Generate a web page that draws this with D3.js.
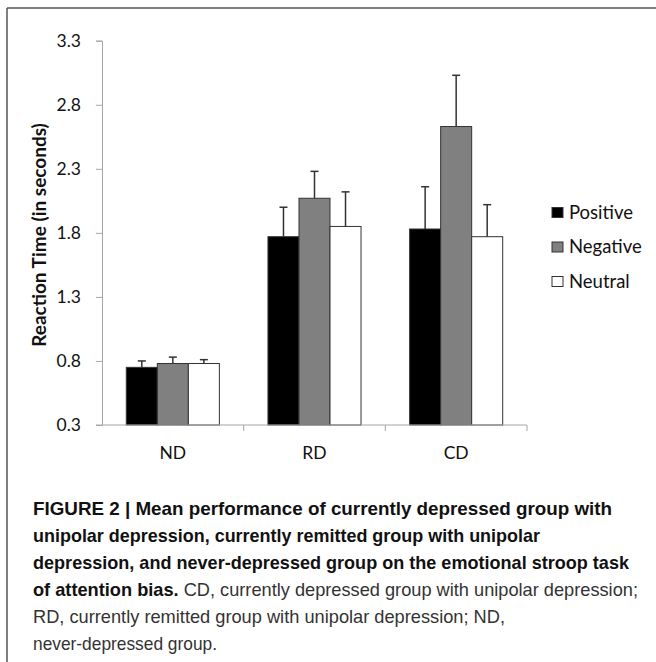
<!DOCTYPE html>
<html><head><meta charset="utf-8">
<script src="https://cdn.jsdelivr.net/npm/d3@7"></script>
<style>body{margin:0;background:#fff}svg{display:block}</style>
</head><body>
<script>
const groups = ["ND", "RD", "CD"];
const seriesNames = ["Positive", "Negative", "Neutral"];
const positive = [0.75, 1.77, 1.83];
const negative = [0.78, 2.07, 2.63];
const neutral  = [0.78, 1.85, 1.77];
const positiveErr = [0.05, 0.23, 0.33];
const negativeErr = [0.05, 0.21, 0.40];
const neutralErr  = [0.03, 0.27, 0.25];
const yTicks = [0.3, 0.8, 1.3, 1.8, 2.3, 2.8, 3.3];
const fills = ["#000000", "#808080", "#ffffff"];

const values = [positive, negative, neutral];
const errs = [positiveErr, negativeErr, neutralErr];

const W = 656, H = 662;
const svg = d3.select("body").append("svg").attr("width", W).attr("height", H);

// frame
svg.append("line").attr("x1", 7).attr("x2", W).attr("y1", 8).attr("y2", 8).attr("stroke", "#555").attr("stroke-width", 1.5);
svg.append("line").attr("x1", 7).attr("x2", 7).attr("y1", 8).attr("y2", H).attr("stroke", "#555").attr("stroke-width", 1.5);

const plotLeft = 102, plotRight = 527, plotTop = 40.7, plotBottom = 425;
const y = d3.scaleLinear().domain([0.3, 3.3]).range([plotBottom, plotTop]);
const x0 = d3.scaleBand().domain(groups).range([plotLeft, plotRight]).padding(0);
const x1 = d3.scaleBand().domain(seriesNames).range([24.3, x0.bandwidth() - 24.3]).padding(0);

const font = "Lato, 'Open Sans', sans-serif";
const axisColor = "#a6a6a6";

// y axis
const yAxis = svg.append("g").attr("transform", `translate(${plotLeft},0)`)
  .call(d3.axisLeft(y).tickValues(yTicks).tickFormat(d3.format(".1f")).tickSize(6).tickPadding(15));
yAxis.select(".domain").attr("stroke", axisColor);
yAxis.selectAll(".tick line").attr("stroke", axisColor);
yAxis.selectAll(".tick text").attr("fill", "#111").style("font-family", font).style("font-size", "17.5px");

// bars
const rows = [];
groups.forEach((g, gi) => seriesNames.forEach((s, si) => rows.push({g, s, si, v: values[si][gi], e: errs[si][gi]})));

const bars = svg.append("g");
bars.selectAll("rect").data(rows).join("rect")
  .attr("x", d => x0(d.g) + x1(d.s))
  .attr("width", x1.bandwidth())
  .attr("y", d => y(d.v))
  .attr("height", d => y(0.3) - y(d.v))
  .attr("fill", d => fills[d.si])
  .attr("stroke", "#333").attr("stroke-width", 1);

// error bars
const eb = svg.append("g").attr("stroke", "#333").attr("stroke-width", 1.5);
eb.selectAll("line.v").data(rows).join("line").attr("class", "v")
  .attr("x1", d => x0(d.g) + x1(d.s) + x1.bandwidth() / 2)
  .attr("x2", d => x0(d.g) + x1(d.s) + x1.bandwidth() / 2)
  .attr("y1", d => y(d.v)).attr("y2", d => y(d.v + d.e));
eb.selectAll("line.c").data(rows).join("line").attr("class", "c")
  .attr("x1", d => x0(d.g) + x1(d.s) + x1.bandwidth() / 2 - 4)
  .attr("x2", d => x0(d.g) + x1(d.s) + x1.bandwidth() / 2 + 4)
  .attr("y1", d => y(d.v + d.e)).attr("y2", d => y(d.v + d.e));

// x axis
const xg = svg.append("g").attr("transform", `translate(0,${plotBottom})`);
xg.append("line").attr("x1", plotLeft - 6).attr("x2", plotRight).attr("y1", 0).attr("y2", 0).attr("stroke", axisColor);
const boundaries = groups.map(g => x0(g) + x0.bandwidth());
xg.selectAll("line.t").data(boundaries).join("line").attr("class", "t")
  .attr("x1", d => d).attr("x2", d => d).attr("y1", 0).attr("y2", 6).attr("stroke", axisColor);
xg.selectAll("text").data(groups).join("text")
  .attr("x", d => x0(d) + x0.bandwidth() / 2).attr("y", 34)
  .attr("text-anchor", "middle").attr("fill", "#111")
  .style("font-family", font).style("font-size", "17.5px").text(d => d);

// y label
svg.append("text").attr("transform", "translate(46,235) rotate(-90)")
  .attr("text-anchor", "middle").attr("fill", "#111")
  .style("font-family", font).style("font-size", "19px").style("font-weight", "bold")
  .text("Reaction Time (in seconds)");

// legend
const lg = svg.append("g");
seriesNames.forEach((s, i) => {
  const yy = 207.5 + i * 34.5;
  lg.append("rect").attr("x", 552).attr("y", yy).attr("width", 11).attr("height", 10)
    .attr("fill", fills[i]).attr("stroke", "#333").attr("stroke-width", 1);
  lg.append("text").attr("x", 569).attr("y", yy + 11).attr("fill", "#111")
    .style("font-family", font).style("font-size", "18.5px").text(s);
});

// caption
const capFont = "'Liberation Sans Narrow', 'Liberation Sans', sans-serif";
const capLines = [
  [["FIGURE 2 | Mean performance of currently depressed group with", true]],
  [["unipolar depression, currently remitted group with unipolar", true]],
  [["depression, and never-depressed group on the emotional stroop task", true]],
  [["of attention bias.", true], [" CD, currently depressed group with unipolar depression;", false]],
  [["RD, currently remitted group with unipolar depression; ND,", false]],
  [["never-depressed group.", false]]
];
const capWidths = [579, 507, 596, 605, 472, 184];
capLines.forEach((parts, i) => {
  const t = svg.append("text").attr("x", 33).attr("y", 514.5 + i * 27)
    .attr("textLength", capWidths[i]).attr("lengthAdjust", "spacingAndGlyphs")
    .style("font-family", capFont).style("font-size", "18.6px");
  parts.forEach(([txt, b]) => t.append("tspan").text(txt)
    .style("font-weight", b ? "bold" : "normal").attr("fill", b ? "#111" : "#333"));
});
</script>
</body></html>
